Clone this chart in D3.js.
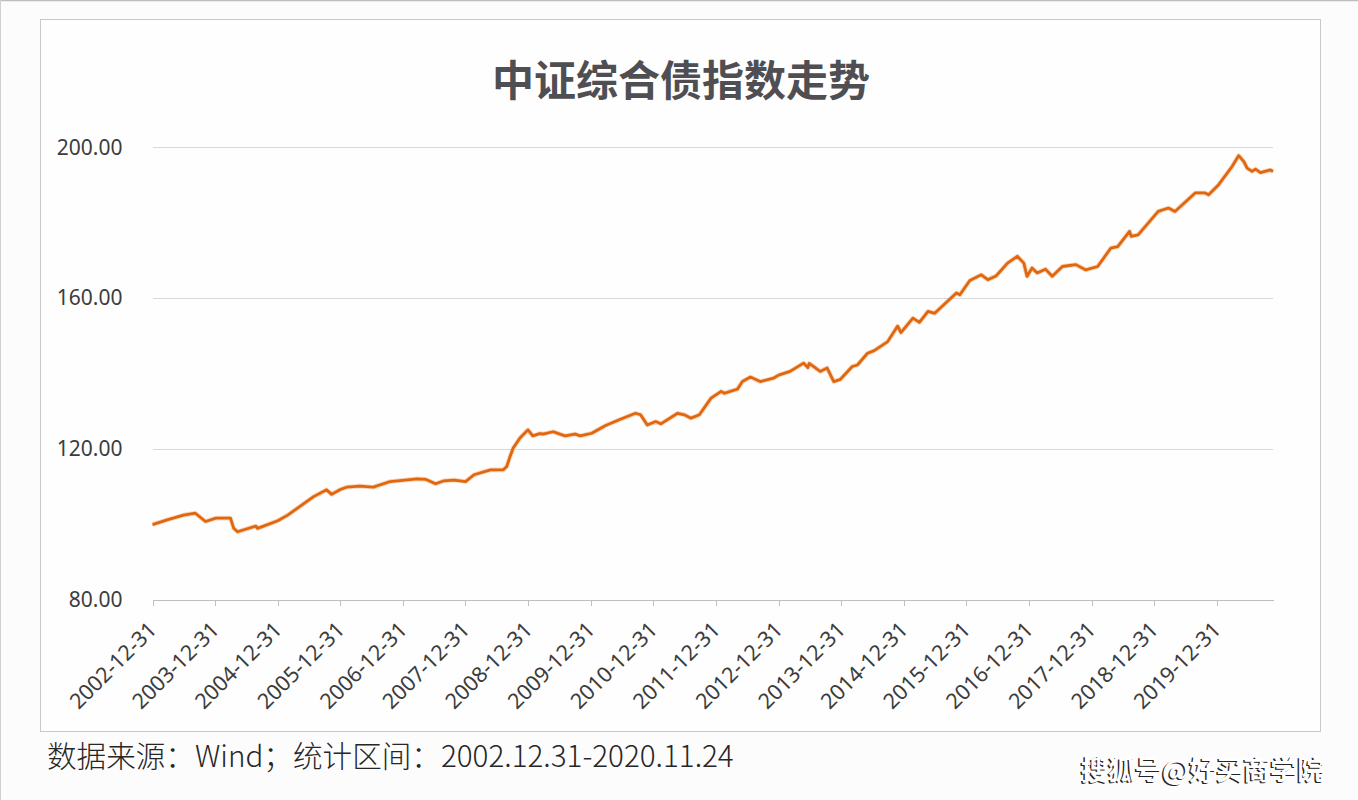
<!DOCTYPE html>
<html>
<head>
<meta charset="utf-8">
<script src="https://cdn.jsdelivr.net/npm/d3@7"></script>
<style>
  html, body { margin: 0; padding: 0; background: #fdfcfd; }
  svg { display: block; }
</style>
</head>
<body>
<svg id="chart" width="1358" height="800"></svg>
<script>
// ---------- data ----------
const title = "中证综合债指数走势";
const footnote = "数据来源：Wind；统计区间：2002.12.31-2020.11.24";
const watermark = "搜狐号@好买商学院";

const dates = [
  "2002-12-31","2003-03-31","2003-06-30","2003-09-07","2003-11-05","2004-01-05",
  "2004-03-30","2004-04-18","2004-05-10","2004-08-25","2004-09-04","2004-12-31",
  "2005-02-27","2005-07-28","2005-10-12","2005-11-10","2005-12-31",
  "2006-02-05","2006-04-23","2006-07-11","2006-10-18",
  "2007-03-25","2007-05-12","2007-07-10","2007-08-28","2007-10-25","2008-01-01",
  "2008-02-19","2008-05-25","2008-08-08","2008-08-28","2008-09-16","2008-10-04","2008-11-12","2008-12-30",
  "2009-01-27","2009-03-08","2009-03-27","2009-05-26","2009-08-03","2009-10-01","2009-10-30",
  "2010-01-06","2010-03-25","2010-06-22","2010-09-18","2010-10-18","2010-11-26",
  "2011-01-14","2011-02-13","2011-05-22","2011-06-30","2011-08-08","2011-09-26","2011-12-03",
  "2012-01-31","2012-02-19","2012-05-05","2012-06-03","2012-07-20","2012-09-15","2012-12-01","2012-12-31",
  "2013-03-08","2013-05-26","2013-06-20","2013-06-28","2013-08-31","2013-10-10","2013-11-18","2013-12-27",
  "2014-03-06","2014-04-05","2014-06-03","2014-07-12","2014-09-29","2014-11-26","2014-12-15",
  "2015-02-23","2015-04-02","2015-05-22","2015-06-30","2015-11-04","2015-11-24",
  "2016-01-21","2016-03-28","2016-05-05","2016-06-22","2016-08-28","2016-10-24","2016-12-01","2016-12-20",
  "2017-01-18","2017-02-17","2017-04-06","2017-05-16","2017-07-14","2017-10-01","2017-11-28",
  "2018-02-05","2018-04-23","2018-06-02","2018-08-10","2018-08-20","2018-09-29",
  "2019-01-24","2019-03-25","2019-05-02","2019-08-28","2019-10-25","2019-11-14",
  "2020-01-12","2020-03-30","2020-05-08","2020-06-07","2020-06-26","2020-07-25","2020-08-14","2020-09-12","2020-11-09","2020-11-24"
];
const values = [
  100.0,101.3,102.5,103.0,100.8,101.7,
  101.7,99.0,98.1,99.6,99.0,101.0,
  102.5,107.4,109.2,108.0,109.3,
  109.9,110.2,109.9,111.4,
  112.1,112.0,110.8,111.6,111.8,111.4,
  113.2,114.5,114.5,115.4,118.0,120.2,122.9,125.1,
  123.5,124.1,124.0,124.6,123.5,124.0,123.5,
  124.2,126.2,127.9,129.5,129.1,126.4,
  127.3,126.7,129.5,129.1,128.2,129.1,133.5,
  135.3,134.8,135.9,137.9,139.1,137.9,138.8,139.6,
  140.6,142.8,141.6,142.7,140.6,141.5,137.9,138.5,
  141.9,142.3,145.4,146.1,148.5,152.6,150.9,
  154.7,153.6,156.5,156.0,161.4,160.9,
  164.7,166.2,164.9,165.9,169.3,171.1,169.3,165.8,
  168.0,166.7,167.7,165.8,168.4,168.9,167.5,
  168.4,173.3,173.7,177.7,176.4,176.8,
  183.0,183.9,183.0,187.9,187.9,187.4,
  190.1,194.9,197.8,196.2,194.5,193.6,194.2,193.3,194.0,193.6
];
const xTickLabels = [
  "2002-12-31","2003-12-31","2004-12-31","2005-12-31","2006-12-31","2007-12-31",
  "2008-12-31","2009-12-31","2010-12-31","2011-12-31","2012-12-31","2013-12-31",
  "2014-12-31","2015-12-31","2016-12-31","2017-12-31","2018-12-31","2019-12-31"
];
const yTicks = [80, 120, 160, 200];
const xDomain = ["2002-12-31", "2020-11-24"];
const yDomain = [80, 200];

// ---------- layout ----------
const parse = d3.timeParse("%Y-%m-%d");
const fmt = d3.timeFormat("%Y-%m-%d");
const svg = d3.select("#chart");
const W = 1358, H = 800;
const plot = { left: 152.5, right: 1273, top: 147.3, bottom: 600 };

const data = dates.map((d, i) => ({ date: parse(d), value: values[i] }));

const x = d3.scaleTime().domain(xDomain.map(parse)).range([plot.left, plot.right]);
const y = d3.scaleLinear().domain(yDomain).range([plot.bottom, plot.top]);

// page edges
svg.append("line").attr("x1", 0).attr("x2", W).attr("y1", 0.5).attr("y2", 0.5)
  .attr("stroke", "#bdbdbd").attr("stroke-width", 1.5);
svg.append("line").attr("x1", 0.5).attr("x2", 0.5).attr("y1", 0).attr("y2", H)
  .attr("stroke", "#d0d0d0").attr("stroke-width", 1);

// chart frame
svg.append("rect").attr("x", 40.5).attr("y", 19.5).attr("width", 1280).attr("height", 712)
  .attr("fill", "#fefefe").attr("stroke", "#c9c9c9").attr("stroke-width", 1);

// title
svg.append("text").attr("x", 681).attr("y", 96)
  .attr("text-anchor", "middle")
  .attr("font-family", "'Noto Sans CJK SC', sans-serif")
  .attr("font-weight", "bold").attr("font-size", 42)
  .attr("fill", "#4f4f53").text(title);

// gridlines + y labels
const yAxis = d3.axisLeft(y).tickValues(yTicks).tickFormat(d3.format(".2f"))
  .tickSize(-(plot.right - plot.left)).tickPadding(30);
const gy = svg.append("g").attr("transform", `translate(${plot.left},0)`).call(yAxis);
gy.select(".domain").remove();
gy.selectAll(".tick line").attr("stroke", "#d9d9d9").attr("stroke-width", 1)
  .attr("shape-rendering", "crispEdges");
gy.selectAll(".tick text")
  .attr("font-family", "'Noto Sans', 'Open Sans', sans-serif")
  .attr("font-size", 21).attr("fill", "#3c3c3c");

// x axis
const xAxis = d3.axisBottom(x).tickValues(xTickLabels.map(parse)).tickFormat(fmt)
  .tickSize(6).tickSizeOuter(0);
const gx = svg.append("g").attr("transform", `translate(0,${plot.bottom})`).call(xAxis);
gx.select(".domain").attr("stroke", "#bfbfbf").attr("shape-rendering", "crispEdges");
gx.selectAll(".tick line").attr("stroke", "#bfbfbf").attr("shape-rendering", "crispEdges");
gx.selectAll(".tick text")
  .attr("font-family", "'Noto Sans', 'Open Sans', sans-serif")
  .attr("font-size", 21.5).attr("fill", "#3c3c3c")
  .attr("text-anchor", "end")
  .attr("dy", null).attr("y", null)
  .attr("transform", "translate(5,31) rotate(-45)");

// line
const line = d3.line().x(d => x(d.date)).y(d => y(d.value)).curve(d3.curveLinear);
svg.append("path").datum(data).attr("d", line)
  .attr("fill", "none").attr("stroke", "#f4b183").attr("stroke-width", 4.6)
  .attr("stroke-linejoin", "round").attr("opacity", 0.55);
svg.append("path").datum(data).attr("d", line)
  .attr("fill", "none").attr("stroke", "#e0670e").attr("stroke-width", 2.8)
  .attr("stroke-linejoin", "round");

// footnote
svg.append("text").attr("x", 47).attr("y", 767)
  .attr("font-family", "'Noto Sans CJK SC', sans-serif")
  .attr("font-weight", 300)
  .attr("font-size", 29.6).attr("fill", "#262626").text(footnote);

// watermark
const wm = svg.append("g");
wm.append("text").attr("x", 1081).attr("y", 780)
  .attr("font-family", "'Noto Sans CJK SC', sans-serif")
  .attr("font-weight", "bold").attr("font-size", 27)
  .attr("fill", "#222")
  .attr("transform", "translate(-1.5,1.2)").text(watermark);
wm.append("text").attr("x", 1081).attr("y", 780)
  .attr("font-family", "'Noto Sans CJK SC', sans-serif")
  .attr("font-weight", "bold").attr("font-size", 27)
  .attr("fill", "#ffffff").text(watermark);
</script>
</body>
</html>
